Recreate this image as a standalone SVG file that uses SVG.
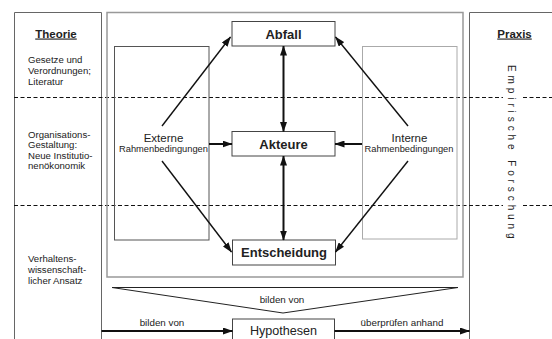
<svg xmlns="http://www.w3.org/2000/svg" width="552" height="339" viewBox="0 0 552 339">
<style>
text{font-family:"Liberation Sans",Arial,sans-serif;fill:#222}
.col{fill:none;stroke:#666;stroke-width:1}
.main{fill:none;stroke:#999;stroke-width:1.5}
.side{fill:none;stroke:#555;stroke-width:1}
.sidel{fill:none;stroke:#aaa;stroke-width:1}
.node{fill:#fff;stroke:#444;stroke-width:1}
.nl{font-size:13px;font-weight:bold;text-anchor:middle}
.sm{font-size:9.6px}
.lab{font-size:9.8px;text-anchor:middle}
.hd{font-size:11.5px;font-weight:bold;text-anchor:middle;text-decoration:underline}
.dash{stroke:#111;stroke-width:1;stroke-dasharray:4 2.5;fill:none}
.c{stroke:#111;fill:none}
.thin{stroke-width:1.4}
.thick{stroke-width:2}
</style>
<defs>
<marker id="ah" markerUnits="userSpaceOnUse" markerWidth="10" markerHeight="7" refX="9.5" refY="3.5" orient="auto-start-reverse" viewBox="0 0 10 7">
<path d="M0,0 L10,3.5 L0,7 z" fill="#111"/>
</marker>
</defs>
<rect width="552" height="339" fill="#fff"/>

<g id="theorie">
<path class="col" d="M14.5,340 V12.5 H101.5 V340"/>
<text class="hd" x="56" y="37.5">Theorie</text>
<text class="sm" x="28" y="63">Gesetze und</text>
<text class="sm" x="28" y="74">Verordnungen;</text>
<text class="sm" x="28" y="85">Literatur</text>
<text class="sm" x="28" y="137.5">Organisations-</text>
<text class="sm" x="28" y="148">Gestaltung:</text>
<text class="sm" x="28" y="158.5">Neue Institutio-</text>
<text class="sm" x="28" y="169">nenökonomik</text>
<text class="sm" x="28" y="262">Verhaltens-</text>
<text class="sm" x="28" y="273">wissenschaft-</text>
<text class="sm" x="28" y="284">licher Ansatz</text>
</g>

<g id="praxis">
<path class="col" d="M469.5,340 V12.5 H560"/>
<text class="hd" x="514.5" y="37.5">Praxis</text>
<text font-size="10" letter-spacing="3.9" transform="translate(508,65) rotate(90)">Empirische Forschung</text>
</g>

<g id="levels">
<path class="dash" d="M14,97.5 H503 M523,97.5 H552 M14,205.5 H503 M523,205.5 H552"/>
</g>

<g id="rahmen">
<rect class="main" x="107" y="12.5" width="356" height="264.5"/>
</g>

<g id="externe">
<rect class="side" x="114.5" y="46.5" width="94.5" height="193.5"/>
<text x="163.5" y="141.5" font-size="11.5" text-anchor="middle">Externe</text>
<text x="163.5" y="152" font-size="9.3" text-anchor="middle">Rahmenbedingungen</text>
</g>

<g id="interne">
<rect class="sidel" x="362.5" y="46.5" width="94.5" height="192.5"/>
<text x="409.5" y="141.5" font-size="11.5" text-anchor="middle">Interne</text>
<text x="409" y="152" font-size="9.3" text-anchor="middle">Rahmenbedingungen</text>
</g>

<g id="abfall">
<rect class="node" x="232" y="21.5" width="103" height="24.5"/>
<text class="nl" x="283.5" y="39">Abfall</text>
</g>

<g id="akteure">
<rect class="node" x="232" y="131.5" width="103" height="24.5"/>
<text class="nl" x="283.5" y="149">Akteure</text>
</g>

<g id="entscheidung">
<rect class="node" x="232.5" y="240" width="103" height="25"/>
<text class="nl" x="284" y="257">Entscheidung</text>
</g>

<g id="hypothesen">
<rect class="node" x="232.5" y="319" width="102" height="30"/>
<text x="283.5" y="334.5" font-size="12.6" text-anchor="middle">Hypothesen</text>
</g>

<g id="funnel">
<path d="M112,287.5 H458 L283,313 Z" fill="none" stroke="#222" stroke-width="1"/>
<text class="lab" x="282" y="303">bilden von</text>
</g>

<g id="connectors">
<path class="c thin" d="M162,126 L230.5,37" marker-end="url(#ah)"/>
<path class="c thin" d="M162,161 L231.5,252" marker-end="url(#ah)"/>
<path class="c thin" d="M408,126 L335.5,37" marker-end="url(#ah)"/>
<path class="c thin" d="M408,161 L335.5,252" marker-end="url(#ah)"/>
<path class="c thick" d="M209,144 H232" marker-end="url(#ah)"/>
<path class="c thick" d="M362,144 H335" marker-end="url(#ah)"/>
<path class="c thick" d="M283.5,46 V131.5" marker-start="url(#ah)" marker-end="url(#ah)"/>
<path class="c thick" d="M283.5,156 V240" marker-start="url(#ah)" marker-end="url(#ah)"/>
<path class="c thick" d="M101.5,331 H232.5" marker-end="url(#ah)"/>
<path class="c thick" d="M334.5,331 H469.5" marker-end="url(#ah)"/>
<text class="lab" x="162" y="325.5">bilden von</text>
<text class="lab" x="402" y="325.5">überprüfen anhand</text>
</g>
</svg>
